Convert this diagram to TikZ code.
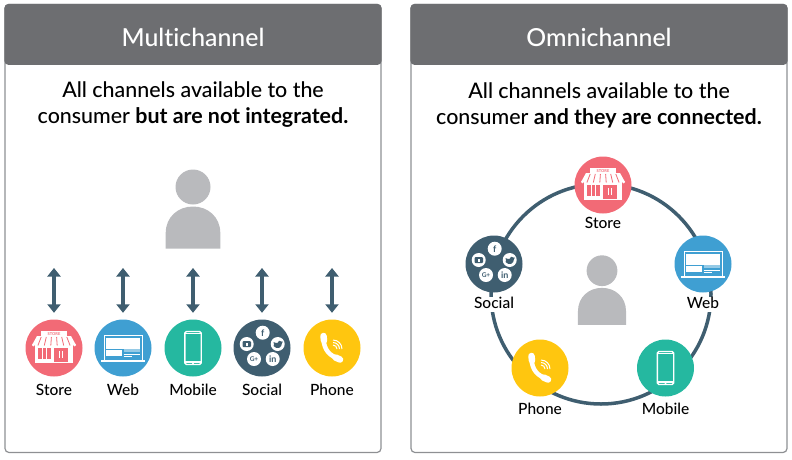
\documentclass[tikz,border=0pt]{standalone}
\usepackage{fontspec}
\setmainfont[Ligatures=NoCommon, BoldFont={Lato Bold}]{Lato Medium}
\usetikzlibrary{arrows, arrows.meta}
\usetikzlibrary{calc}

\definecolor{headgray}{HTML}{6D6E71}
\definecolor{boxgray}{HTML}{8E9093}
\definecolor{usergray}{HTML}{B9BABD}
\definecolor{storered}{HTML}{F26A76}
\definecolor{webblue}{HTML}{3F9FD2}
\definecolor{mobilegreen}{HTML}{25B8A0}
\definecolor{socialdark}{HTML}{3F5E70}
\definecolor{phoneyellow}{HTML}{FFC60F}

\tikzset{
  panelbox/.style={draw=boxgray, line width=1.2pt, rounded corners=4pt, minimum width=376pt, minimum height=448pt, inner sep=0pt},
  channel/.style={circle, minimum size=57pt, inner sep=0pt},
  chanlabel/.style={fill=white, inner sep=1pt, text height=10pt, text depth=3pt, font=\fontsize{15.5}{16}\selectfont, text=black},
  linkarrow/.style={draw=socialdark, line width=3.3pt, {Triangle[width=13pt,length=8.5pt]}-{Triangle[width=13pt,length=8.5pt]}},
  socialdot/.style={circle, fill=white, minimum size=14pt, inner sep=0pt, text=socialdark, font=\bfseries\fontsize{9}{9}\selectfont},
  pics/personicon/.style={code={
    \fill[usergray] (0,0) circle[radius=17.5];
    \fill[usergray] (-27.3,61.5) -- (-27.3,46) .. controls (-27.3,30) and (-15,19.5) .. (0,19.5)
      .. controls (15,19.5) and (27.3,30) .. (27.3,46) -- (27.3,61.5) -- cycle;
  }},
  pics/storeicon/.style={code={
    \fill[white] (-13,-17) rectangle (13,-11.5);
    \node[text=storered, font=\bfseries\fontsize{4}{4}\selectfont, inner sep=0pt] (sign) at (0,-14.3) {STORE};
    \fill[white] (-19,-3) rectangle (19,15);
    \fill[white] (-17,-12) -- (17,-12) -- (22,-3) -- (-22,-3) -- cycle;
    \foreach \xx in {-22,-16.13,-10.27,-4.4,1.47,7.33,13.2,19.07}
      \fill[white] (\xx+1.47,-3) circle[radius=1.47];
    \foreach \tt/\bb in {-12.8/-16.1,-7.7/-9.7,-2.6/-3.2,2.6/3.2,7.7/9.7,12.8/16.1}
      \draw[storered, line width=.8pt] (\tt,-11) -- (\bb,-2.5);
    \fill[storered] (-16,0) rectangle (-3.5,11);
    \draw[white, line width=.8pt] (-11.8,0) -- (-11.8,11) (-7.7,0) -- (-7.7,11);
    \fill[storered] (0,0) rectangle (14,14);
    \draw[white, line width=.7pt] (5.6,3) -- (5.6,10) (8.2,3) -- (8.2,10);
  }},
  pics/webicon/.style={code={
    \draw[white, line width=1pt] (-19,11.5) -- (-19,-13) -- (19,-13) -- (19,11.5);
    \fill[white] (-21.7,12) rectangle (21.7,14);
    \fill[white] (-16.7,-10.3) rectangle (16.7,1);
    \fill[white] (-16.7,2) rectangle (-1,7.7);
    \fill[white, opacity=.45] (.7,1) rectangle (16.7,4.3);
    \draw[white, line width=.8pt] (.7,6) -- (16.7,6) (.7,8.2) -- (9,8.2);
  }},
  pics/mobileicon/.style={code={
    \draw[white, line width=1.4pt, rounded corners=1.5pt] (-8.2,-16.5) rectangle (8.2,16.5);
    \draw[white, line width=1.2pt] (-8.2,-14.5) -- (8.2,-14.5) (-8.2,14) -- (8.2,14);
    \fill[white] (0,15.3) circle[radius=1];
  }},
  pics/socialicon/.style={code={
    \node[socialdot] (fb) at (.7,-15.3) {f};
    \node[socialdot] (tw) at (15.7,-4) {};
    \node[socialdot] (li) at (10.7,11) {in};
    \node[socialdot, font=\bfseries\fontsize{6.5}{7}\selectfont] (gp) at (-8,11) {G+};
    \node[socialdot] (yt) at (-15.3,-4) {};
    \fill[socialdark] (11.5,-2) .. controls (13,-2.5) and (11.5,-4.5) .. (11.5,-6)
      .. controls (13,-5) and (14.5,-5) .. (15.5,-5)
      .. controls (15.5,-7.5) and (18.5,-8) .. (19.5,-6.5) -- (21,-6.5) -- (20,-5)
      .. controls (20,0) and (15,2) .. (11.5,-2) -- cycle;
    \fill[socialdark, rounded corners=1pt] (-19.5,-7) rectangle (-11,-1);
    \fill[white] (-16.5,-5.5) rectangle (-14,-2.5);
  }},
  pics/phoneicon/.style={code={
    \draw[white, line width=4.5pt, line cap=round] (-8.5,-9) .. controls (-8,2) and (-2,8) .. (6.5,10.5);
    \draw[white, line width=6.5pt, line cap=round] (-8.5,-12) -- (-8,-7.5);
    \draw[white, line width=6.5pt, line cap=round] (3.5,9.5) -- (8,11.5);
    \foreach \rr in {4,6.5,9}
      \draw[white, line width=1pt] (1,{1-\rr}) .. controls ({1+.55*\rr},{1-\rr}) and ({1+\rr},{1-.55*\rr}) .. ({1+\rr},1);
  }},
}

\begin{document}
\begin{tikzpicture}[x=1pt, y=-1pt]
    \useasboundingbox (0,0) rectangle (792,459);

    % left panel
    \node[panelbox] (multi) at (193,228.5) {};
    \fill[headgray, rounded corners=4pt] (multi.north west) -- (multi.north east) -- ([sharp corners]$(multi.north east)+(0,-61pt)$) -- ([sharp corners]$(multi.north west)+(0,-61pt)$) -- cycle;
    \node[text=white, font=\fontsize{24.8}{26}\selectfont] (multititle) at (193,37) {Multichannel};
    \node[align=center, font=\fontsize{21.4}{26}\selectfont] (multitext) at (193,105) {All channels available to the\\consumer \textbf{but are not integrated.}};
    \pic (usera) at (193,187) {personicon};

    \node[channel, fill=storered, label={[chanlabel, yshift=-7.5pt]below:Store}] (storea) at (54,348) {};
    \node[channel, fill=webblue, label={[chanlabel, yshift=-7.5pt]below:Web}] (weba) at (123,348) {};
    \node[channel, fill=mobilegreen, label={[chanlabel, yshift=-7.5pt]below:Mobile}] (mobilea) at (193,348) {};
    \node[channel, fill=socialdark, label={[chanlabel, yshift=-7.5pt]below:Social}] (sociala) at (262,348) {};
    \node[channel, fill=phoneyellow, label={[chanlabel, yshift=-7.5pt]below:Phone}] (phonea) at (332,348) {};
    \pic at (storea) {storeicon};
    \pic at (weba) {webicon};
    \pic at (mobilea) {mobileicon};
    \pic at (sociala) {socialicon};
    \pic at (phonea) {phoneicon};

    \coordinate (storeatop) at (54,268);
    \coordinate (webatop) at (123,268);
    \coordinate (mobileatop) at (193,268);
    \coordinate (socialatop) at (262,268);
    \coordinate (phoneatop) at (332,268);
    \draw[linkarrow] (storeatop) -- ($(storea.north)+(0,-6.5)$);
    \draw[linkarrow] (webatop) -- ($(weba.north)+(0,-6.5)$);
    \draw[linkarrow] (mobileatop) -- ($(mobilea.north)+(0,-6.5)$);
    \draw[linkarrow] (socialatop) -- ($(sociala.north)+(0,-6.5)$);
    \draw[linkarrow] (phoneatop) -- ($(phonea.north)+(0,-6.5)$);

    % right panel
    \node[panelbox] (omni) at (599,228.5) {};
    \fill[headgray, rounded corners=4pt] (omni.north west) -- (omni.north east) -- ([sharp corners]$(omni.north east)+(0,-61pt)$) -- ([sharp corners]$(omni.north west)+(0,-61pt)$) -- cycle;
    \node[text=white, font=\fontsize{24.8}{26}\selectfont] (omnititle) at (599,37) {Omnichannel};
    \node[align=center, font=\fontsize{21.4}{26}\selectfont] (omnitext) at (599,105) {All channels available to the\\consumer \textbf{and they are connected.}};
    \node[circle, draw=socialdark, line width=3.5pt, minimum size=220pt, inner sep=0pt] (ring) at (601,294) {};
    \pic[scale=.88] (userb) at (602,270.7) {personicon};

    \node[channel, fill=storered, label={[chanlabel, yshift=-3.5pt]below:Store}] (storeb) at (603,185) {};
    \node[channel, fill=webblue, label={[chanlabel, yshift=-4.5pt]below:Web}] (webb) at (703,264) {};
    \node[channel, fill=mobilegreen, label={[chanlabel, yshift=-6.5pt]below:Mobile}] (mobileb) at (665.5,368) {};
    \node[channel, fill=phoneyellow, label={[chanlabel, yshift=-6.5pt]below:Phone}] (phoneb) at (540,368) {};
    \node[channel, fill=socialdark, label={[chanlabel, yshift=-4.5pt]below:Social}] (socialb) at (494,264) {};
    \pic at (storeb) {storeicon};
    \pic at (webb) {webicon};
    \pic at (mobileb) {mobileicon};
    \pic at (phoneb) {phoneicon};
    \pic at (socialb) {socialicon};
\end{tikzpicture}
\end{document}
